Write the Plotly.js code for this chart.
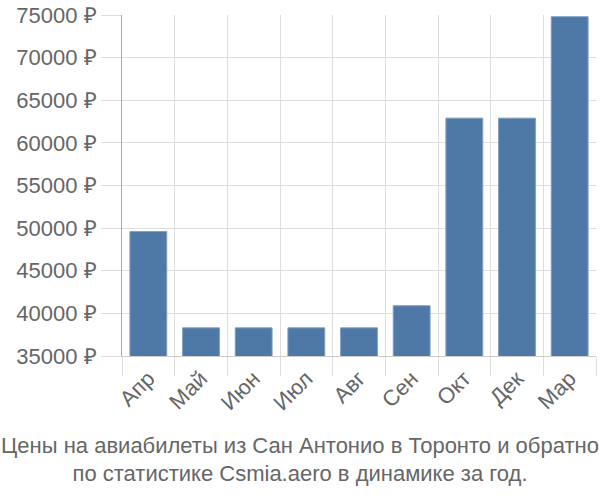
<!DOCTYPE html>
<html><head><meta charset="utf-8">
<script src="https://cdn.plot.ly/plotly-3.0.1.min.js"></script>
<style>body{margin:0}#c{width:600px;height:500px}</style>
</head><body><div id="c"></div>
<script>
const months = ["Апр","Май","Июн","Июл","Авг","Сен","Окт","Дек","Мар"];
const prices = [49600, 38300, 38300, 38300, 38300, 40900, 62900, 62900, 74800];
const yTicks = [35000, 40000, 45000, 50000, 55000, 60000, 65000, 70000, 75000];
const titleText = "Цены на авиабилеты из Сан Антонио в Торонто и обратно<br>по статистике Csmia.aero в динамике за год.";

Plotly.newPlot("c", [{
  type: "bar", x: months, y: prices,
  marker: {color: "#4e79a7", line: {color: "#7f9fc4", width: 1}},
  width: 0.7, hoverinfo: "none"
}], {
  width: 600, height: 500,
  margin: {l: 122, r: 4, t: 15, b: 144},
  paper_bgcolor: "#fff", plot_bgcolor: "#fff",
  font: {family: "Liberation Sans, Arial, sans-serif", color: "#666", size: 22},
  showlegend: false,
  title: {text: titleText, font: {size: 22, color: "#666"}, x: 0.5, xanchor: "center", yref: "container", y: 0.095, yanchor: "middle"},
  xaxis: {type: "category", tickangle: -45, tickson: "boundaries", showgrid: true, gridcolor: "#ddd", gridwidth: 1,
    ticks: "outside", ticklen: 19, tickcolor: "#ddd", showline: true, linecolor: "#ccc", tickfont: {size: 22, color: "#666"}},
  yaxis: {range: [35000, 75000], tickvals: yTicks, ticktext: yTicks.map(v => v + " ₽"), showgrid: true, gridcolor: "#ddd",
    ticks: "outside", ticklen: 20, tickcolor: "#ddd", showline: true, linecolor: "#aaa", linewidth: 1, zeroline: false,
    tickfont: {size: 22, color: "#666"}}
}, {staticPlot: true});
</script></body></html>
